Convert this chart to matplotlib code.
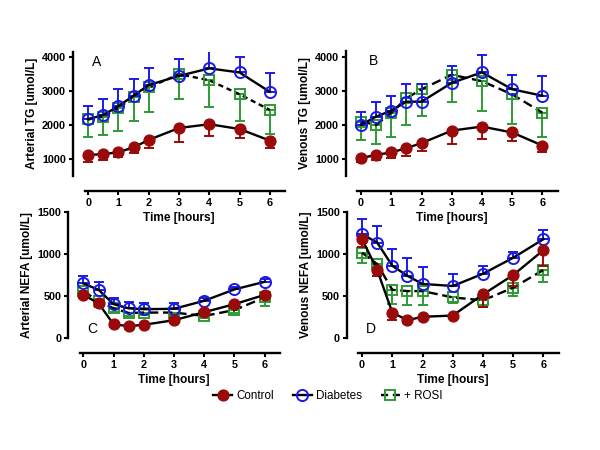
import matplotlib
matplotlib.use("Agg")
import matplotlib.pyplot as plt
from matplotlib.lines import Line2D

plt.rcParams['font.family'] = ['Liberation Sans', 'DejaVu Sans']

hours = [0, 0.5, 1, 1.5, 2, 3, 4, 5, 6]
xticks = [0, 1, 2, 3, 4, 5, 6]

# Panel A: Arterial TG
ctrl_A = [1120, 1140, 1200, 1340, 1560, 1910, 2020, 1880, 1540]
ctrl_A_err = [200, 170, 150, 155, 245, 405, 335, 255, 205]
diab_A = [2170, 2290, 2550, 2860, 3170, 3440, 3660, 3540, 2970]
diab_A_err = [385, 460, 500, 495, 490, 500, 510, 460, 560]
rosi_A = [2160, 2240, 2490, 2830, 3100, 3490, 3310, 2900, 2440]
rosi_A_err = [525, 535, 655, 715, 715, 730, 775, 785, 705]

# Panel B: Venous TG
ctrl_B = [1030, 1125, 1195, 1325, 1470, 1840, 1960, 1785, 1400]
ctrl_B_err = [120, 165, 165, 220, 225, 390, 365, 245, 205]
diab_B = [2010, 2255, 2430, 2695, 2695, 3250, 3560, 3060, 2870]
diab_B_err = [390, 440, 430, 520, 520, 490, 510, 420, 580]
rosi_B = [2105, 2010, 2370, 2795, 3060, 3490, 3300, 2910, 2370]
rosi_B_err = [555, 560, 705, 785, 785, 805, 870, 875, 705]

# Panel C: Arterial NEFA
ctrl_C = [515, 415, 165, 145, 160, 215, 310, 405, 515]
ctrl_C_err = [40, 40, 30, 30, 30, 30, 30, 40, 50]
diab_C = [650, 575, 405, 355, 345, 350, 445, 580, 670]
diab_C_err = [90, 90, 70, 80, 75, 65, 30, 30, 30]
rosi_C = [560, 440, 355, 300, 305, 305, 265, 335, 485]
rosi_C_err = [40, 40, 40, 40, 30, 30, 30, 30, 100]

# Panel D: Venous NEFA
ctrl_D = [1175, 810, 305, 215, 255, 270, 520, 750, 1045]
ctrl_D_err = [90, 70, 85, 30, 30, 30, 145, 125, 190]
diab_D = [1235, 1135, 860, 740, 645, 620, 765, 955, 1175]
diab_D_err = [180, 200, 200, 210, 195, 140, 95, 70, 110]
rosi_D = [1015, 880, 575, 560, 560, 485, 450, 600, 810]
rosi_D_err = [125, 110, 170, 160, 160, 70, 75, 95, 140]

series_labels = ["Control", "Diabetes", "+ ROSI"]

RED = '#9a0a0a'
BLUE = '#1a1ae8'
GREEN = '#2f9a34'

W, H = 600, 450
fig = plt.figure(figsize=(6, 4.5), dpi=100)


def make_ax(left_px, top_px, width_px, height_px):
    return fig.add_axes([left_px / W, 1 - (top_px + height_px) / H, width_px / W, height_px / H])


panels = [
    dict(pos=(73, 51.7, 212, 124.3), ylim=(500, 4150), yticks=[1000, 2000, 3000, 4000],
         ylabel='Arterial TG [umol/L]', letter='A', lpos=(0.09, 0.86),
         data=(ctrl_A, ctrl_A_err, diab_A, diab_A_err, rosi_A, rosi_A_err), ls=(0, (2.2, 1.6))),
    dict(pos=(346, 50.7, 211.5, 125.3), ylim=(500, 4200), yticks=[1000, 2000, 3000, 4000],
         ylabel='Venous TG [umol/L]', letter='B', lpos=(0.11, 0.86),
         data=(ctrl_B, ctrl_B_err, diab_B, diab_B_err, rosi_B, rosi_B_err), ls=(0, (4, 2))),
    dict(pos=(68.3, 211.8, 211.5, 126.5), ylim=(0, 1500), yticks=[0, 500, 1000, 1500],
         ylabel='Arterial NEFA [umol/L]', letter='C', lpos=(0.09, 0.02),
         data=(ctrl_C, ctrl_C_err, diab_C, diab_C_err, rosi_C, rosi_C_err), ls=(0, (4, 2))),
    dict(pos=(347, 211.8, 211.5, 126.5), ylim=(0, 1500), yticks=[0, 500, 1000, 1500],
         ylabel='Venous NEFA [umol/L]', letter='D', lpos=(0.09, 0.02),
         data=(ctrl_D, ctrl_D_err, diab_D, diab_D_err, rosi_D, rosi_D_err), ls=(0, (4, 2))),
]

for p in panels:
    ax = make_ax(*p['pos'])
    c, ce, d, de, r, re_, = p['data']
    zeros = [0] * len(hours)
    # ROSI (errors below)
    ax.errorbar(hours, r, yerr=[re_, zeros], fmt='none', ecolor=GREEN, elinewidth=1.4,
                capsize=3.8, capthick=1.4, zorder=2)
    ax.plot(hours, r, color='black', ls=p['ls'], lw=1.7, zorder=3,
            marker='s', ms=7.8, mfc='none', mec=GREEN, mew=1.4, clip_on=False)
    # Diabetes (errors above)
    ax.errorbar(hours, d, yerr=[zeros, de], fmt='none', ecolor=BLUE, elinewidth=1.4,
                capsize=3.8, capthick=1.4, zorder=4)
    ax.plot(hours, d, color='black', ls='-', lw=1.7, zorder=5,
            marker='o', ms=8.0, mfc='none', mec=BLUE, mew=1.4, clip_on=False)
    # Control (errors below)
    ax.errorbar(hours, c, yerr=[ce, zeros], fmt='none', ecolor=RED, elinewidth=1.4,
                capsize=3.8, capthick=1.4, zorder=6)
    ax.plot(hours, c, color='black', ls='-', lw=1.7, zorder=7,
            marker='o', ms=7.8, mfc=RED, mec=RED, mew=1.0, clip_on=False)

    ax.set_xlim(-0.5, 6.5)
    ax.set_ylim(*p['ylim'])
    ax.set_xticks(xticks)
    ax.set_xticklabels([str(t) for t in xticks])
    ax.set_yticks(p['yticks'])
    ax.set_yticklabels([str(t) for t in p['yticks']])
    for s in ['top', 'right']:
        ax.spines[s].set_visible(False)
    ax.spines['left'].set_linewidth(1.7)
    ax.spines['bottom'].set_linewidth(1.7)
    ax.spines['bottom'].set_position(('outward', 10.6))
    ax.spines['bottom'].set_bounds(-0.12, 6.5)
    ax.tick_params(axis='both', direction='out', length=3, width=1.5, labelsize=7.8, pad=2)
    for lab in ax.get_xticklabels() + ax.get_yticklabels():
        lab.set_fontweight('bold')
    ax.set_ylabel(p['ylabel'], fontsize=8.6, fontweight='bold', labelpad=3)
    ax.set_xlabel('Time [hours]', fontsize=8.6, fontweight='bold', labelpad=3)
    ax.text(p['lpos'][0], p['lpos'][1], p['letter'], transform=ax.transAxes,
            fontsize=10, ha='left', va='bottom')
    ax.patch.set_alpha(0)

handles = [
    Line2D([], [], color='black', lw=1.7, marker='o', ms=7.8, mfc=RED, mec=RED),
    Line2D([], [], color='black', lw=1.7, marker='o', ms=8.0, mfc='none', mec=BLUE, mew=1.4),
    Line2D([], [], color='black', lw=1.7, ls=(0, (3, 2)), marker='s', ms=7.8, mfc='none', mec=GREEN, mew=1.4),
]
fig.legend(handles, series_labels, loc='center', bbox_to_anchor=(328 / W, 1 - 396 / H),
           ncol=3, frameon=False, fontsize=8.4, handlelength=1.6, handletextpad=0.4,
           columnspacing=1.6)

fig.savefig('out.png', dpi=100)
